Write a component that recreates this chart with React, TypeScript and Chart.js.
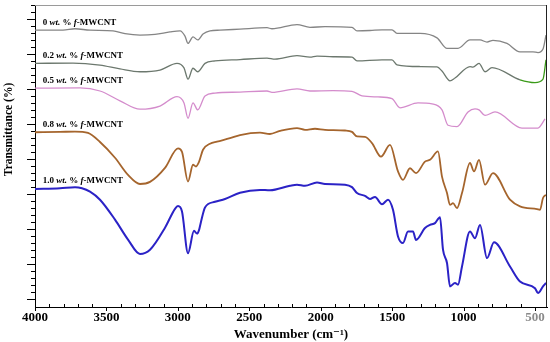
import React, { useEffect, useRef } from "react";
import { Chart, registerables } from "chart.js";

Chart.register(...registerables);

// Wavenumber tick labels (cm^-1)
const X_TICKS = [500, 1000, 1500, 2000, 2500, 3000, 3500, 4000];
const Y_TICKS = [0, 10, 20, 30, 40, 50, 60, 70, 80];

const SERIES_NAMES = ["0", "0.2", "0.5", "0.8", "1.0"];
const SERIES_COLORS = ["#858585", "#6c786e", "#d48ccc", "#a5652d", "#2b22c6"];
const SERIES_WIDTHS = [1.3, 1.3, 1.3, 1.8, 2];
// label anchor (wavenumber, transmittance) for each series name
const LABEL_WN = [3946, 3946, 3946, 3946, 3946];
const LABEL_T = [79.0, 69.6, 62.5, 49.8, 33.8];

// [wavenumber, transmittance (a.u.)]
const S_0: [number, number][] = [
  [4000, 76.9], [3804, 76.9], [3720, 77.3], [3615, 76.9], [3454, 76.7], [3370, 75.9],
  [3265, 75.5], [3160, 75.7], [3055, 76.4], [2985, 76.7], [2950, 75.2], [2929, 73.1],
  [2894, 75.0], [2861, 74.1], [2824, 75.8], [2775, 76.7], [2705, 76.9], [2565, 77.2],
  [2376, 77.6], [2341, 77.3], [2166, 78.5], [2075, 77.7], [1970, 77.9], [1781, 77.7],
  [1746, 76.7], [1655, 76.8], [1571, 77.0], [1501, 77.0], [1466, 76.0], [1305, 76.0],
  [1186, 74.7], [1116, 71.7], [1039, 71.7], [955, 74.1], [885, 74.1], [836, 73.5],
  [794, 74.0], [696, 73.1], [605, 70.7], [514, 70.7], [479, 70.5], [444, 71.5], [423, 75.5],
];

const S_02: [number, number][] = [
  [4000, 67.4], [3734, 67.5], [3545, 66.9], [3405, 65.8], [3265, 65.0], [3125, 65.5],
  [3006, 67.4], [2957, 66.1], [2929, 62.9], [2894, 66.0], [2861, 65.0], [2810, 67.4],
  [2740, 68.1], [2565, 68.5], [2376, 68.9], [2320, 68.6], [2166, 69.6], [2075, 69.2],
  [2026, 69.5], [1914, 69.3], [1781, 69.2], [1746, 68.1], [1571, 68.4], [1501, 68.4],
  [1466, 67.0], [1305, 66.5], [1186, 66.4], [1151, 65.2], [1095, 62.4], [1060, 63.2],
  [955, 66.5], [934, 66.3], [892, 67.4], [850, 65.0], [801, 66.2], [605, 62.7],
  [500, 61.9], [444, 62.9], [423, 68.4],
];

const S_05: [number, number][] = [
  [4000, 60.3], [3685, 60.4], [3545, 59.5], [3405, 56.7], [3265, 54.3], [3125, 55.2],
  [3006, 57.9], [2957, 56.1], [2929, 51.7], [2894, 56.1], [2861, 54.1], [2810, 58.1],
  [2740, 58.9], [2565, 59.2], [2376, 59.5], [2341, 59.1], [2166, 60.1], [2075, 59.5],
  [1914, 59.6], [1781, 59.4], [1711, 58.1], [1599, 57.8], [1501, 57.3], [1445, 54.7],
  [1319, 56.1], [1221, 55.8], [1151, 54.1], [1109, 49.7], [1046, 49.3], [969, 53.5],
  [920, 54.4], [892, 54.1], [850, 52.5], [780, 53.5], [591, 48.9], [479, 48.9], [430, 51.5],
];

const S_08: [number, number][] = [
  [4000, 47.7], [3825, 47.8], [3720, 47.9], [3629, 47.5], [3545, 44.9], [3440, 40.4],
  [3349, 35.5], [3265, 32.9], [3195, 33.5], [3090, 37.5], [2999, 43.1], [2971, 42.1],
  [2929, 33.6], [2894, 38.4], [2873, 37.9], [2852, 39.2], [2824, 42.7], [2775, 44.4],
  [2726, 45.0], [2635, 46.0], [2565, 46.9], [2425, 47.6], [2355, 47.2], [2285, 48.1],
  [2166, 48.9], [2110, 48.4], [2040, 48.7], [1970, 48.4], [1830, 48.2], [1781, 47.8],
  [1746, 46.5], [1690, 46.4], [1641, 44.6], [1578, 40.7], [1515, 44.1], [1459, 36.5],
  [1424, 34.1], [1375, 37.4], [1333, 36.0], [1270, 39.3], [1235, 39.8], [1179, 42.2],
  [1151, 35.0], [1116, 30.3], [1095, 26.9], [1074, 27.4], [1046, 26.0], [1011, 30.3],
  [955, 38.9], [927, 36.5], [892, 39.8], [850, 32.7], [794, 36.0], [675, 28.4],
  [605, 26.5], [486, 25.7], [465, 25.5], [444, 28.9], [423, 29.8],
];

const S_10: [number, number][] = [
  [4000, 31.5], [3825, 31.7], [3720, 32.0], [3671, 31.7], [3615, 30.7], [3545, 28.4],
  [3440, 22.7], [3349, 17.0], [3265, 12.9], [3195, 14.1], [3090, 20.4], [3020, 25.8],
  [2999, 26.6], [2971, 25.0], [2929, 13.1], [2887, 19.5], [2866, 18.7], [2852, 19.7],
  [2838, 22.1], [2810, 26.2], [2740, 27.8], [2670, 28.6], [2565, 30.4], [2425, 31.2],
  [2355, 31.1], [2215, 32.4], [2166, 32.7], [2110, 32.4], [2026, 33.3], [1970, 32.9],
  [1830, 32.7], [1781, 32.0], [1746, 30.3], [1690, 29.5], [1655, 28.6], [1620, 29.2],
  [1571, 27.1], [1529, 28.4], [1494, 25.5], [1459, 17.9], [1424, 16.0], [1389, 19.3],
  [1354, 19.3], [1333, 16.9], [1270, 20.3], [1235, 21.2], [1200, 21.7], [1165, 23.4],
  [1144, 14.1], [1116, 10.3], [1095, 3.6], [1060, 4.6], [1039, 4.1], [1011, 9.3],
  [955, 19.3], [920, 17.4], [885, 21.2], [836, 11.7], [787, 16.2], [675, 9.3],
  [605, 5.0], [500, 3.1], [479, 1.7], [444, 3.6], [423, 4.6],
];

const SERIES = [S_0, S_02, S_05, S_08, S_10];

const SERIF = '"Liberation Serif", "DejaVu Serif", serif';

const decorPlugin = {
  id: "decor",
  afterDraw(chart: any) {
    const { ctx, chartArea: a, scales } = chart;
    const x = scales.x;
    const y = scales.y;
    ctx.save();
    // top and right frame
    ctx.lineWidth = 1;
    ctx.strokeStyle = "#9a9a9a";
    ctx.beginPath();
    ctx.moveTo(a.left, a.top + 0.5);
    ctx.lineTo(a.right, a.top + 0.5);
    ctx.stroke();
    ctx.strokeStyle = "#222";
    ctx.beginPath();
    ctx.moveTo(a.right - 0.5, a.top);
    ctx.lineTo(a.right - 0.5, a.bottom);
    ctx.stroke();

    // x ticks
    ctx.strokeStyle = "#000";
    ctx.beginPath();
    for (let w = 500; w <= 4000; w += 100) {
      const px = Math.round(x.getPixelForValue(w)) + 0.5;
      if (w % 500 === 0) {
        ctx.moveTo(px, a.bottom);
        ctx.lineTo(px, a.bottom + 4);
      } else {
        ctx.moveTo(px, a.bottom);
        ctx.lineTo(px, a.bottom - 3);
      }
    }
    // y ticks
    for (let v = 0; v <= 84; v += 2) {
      const py = Math.round(y.getPixelForValue(v)) + 0.5;
      const len = v % 10 === 0 ? 8 : 4;
      ctx.moveTo(a.left - len, py);
      ctx.lineTo(a.left, py);
    }
    ctx.stroke();

    // y title
    ctx.fillStyle = "#000";
    ctx.font = `bold 11.5px ${SERIF}`;
    ctx.textAlign = "center";
    ctx.textBaseline = "middle";
    ctx.translate(9, y.getPixelForValue(48.5));
    ctx.rotate(-Math.PI / 2);
    ctx.fillText("Transmittance (%)", 0, 0);
    ctx.setTransform(1, 0, 0, 1, 0, 0);

    // series labels
    ctx.textAlign = "left";
    for (let i = 0; i < SERIES_NAMES.length; i++) {
      let lx = x.getPixelForValue(LABEL_WN[i]);
      const ly = y.getPixelForValue(LABEL_T[i]);
      const parts: [string, boolean][] = [
        [SERIES_NAMES[i] + " ", false],
        ["wt.", true],
        [" % ", false],
        ["f", true],
        ["-MWCNT", false],
      ];
      for (const [t, it] of parts) {
        ctx.font = `${it ? "italic " : ""}bold 9px ${SERIF}`;
        ctx.fillText(t, lx, ly);
        lx += ctx.measureText(t).width;
      }
    }
    ctx.restore();
  },
};

export default function App() {
  const ref = useRef<HTMLCanvasElement | null>(null);
  useEffect(() => {
    document.body.style.margin = "0";
    const canvas = ref.current;
    if (!canvas) return;
    const chart = new Chart(canvas, {
      type: "line",
      data: {
        datasets: SERIES.map((s, i) => ({
          label: SERIES_NAMES[i] + " wt. % f-MWCNT",
          data: s.map(([w, t]) => ({ x: w, y: t })),
          borderColor: SERIES_COLORS[i],
          borderWidth: SERIES_WIDTHS[i],
          pointRadius: 0,
          fill: false,
          cubicInterpolationMode: "monotone" as const,
          segment:
            i === 1
              ? { borderColor: (c: any) => (c.p0.parsed.x < 640 ? "#3a9a18" : SERIES_COLORS[1]) }
              : undefined,
        })),
      },
      options: {
        responsive: false,
        animation: false,
        layout: { padding: { left: 0, right: 3, top: 5, bottom: 0 } },
        plugins: { legend: { display: false }, tooltip: { enabled: false } },
        scales: {
          x: {
            type: "linear",
            reverse: true,
            min: 416,
            max: 4000,
            afterBuildTicks: (s: any) => {
              s.ticks = X_TICKS.map((v) => ({ value: v }));
            },
            afterFit: (s: any) => {
              s.height = 35;
            },
            grid: { display: false, drawTicks: false },
            border: { display: true, color: "#000", width: 1 },
            ticks: {
              padding: 3,
              maxRotation: 0,
              autoSkip: false,
              color: (c: any) => (c.tick && c.tick.value === 500 ? "#8a8a8a" : "#000"),
              font: { family: SERIF, size: 13, weight: "bold" },
              callback: (v: any) => String(v),
            },
            title: {
              display: true,
              text: "Wavenumber (cm\u207B\u00B9)",
              color: "#000",
              font: { family: SERIF, size: 13, weight: "bold" },
              padding: 0,
            },
          },
          y: {
            type: "linear",
            min: -2.29,
            max: 84.1,
            afterBuildTicks: (s: any) => {
              s.ticks = Y_TICKS.map((v) => ({ value: v }));
            },
            afterFit: (s: any) => {
              s.width = 35;
            },
            grid: { display: false, drawTicks: false },
            border: { display: true, color: "#000", width: 1 },
            ticks: { display: false },
          },
        },
      },
      plugins: [decorPlugin],
    });
    return () => chart.destroy();
  }, []);
  return (
    <div style={{ width: 550, height: 342 }}>
      <canvas ref={ref} width={550} height={342} style={{ display: "block" }} />
    </div>
  );
}
